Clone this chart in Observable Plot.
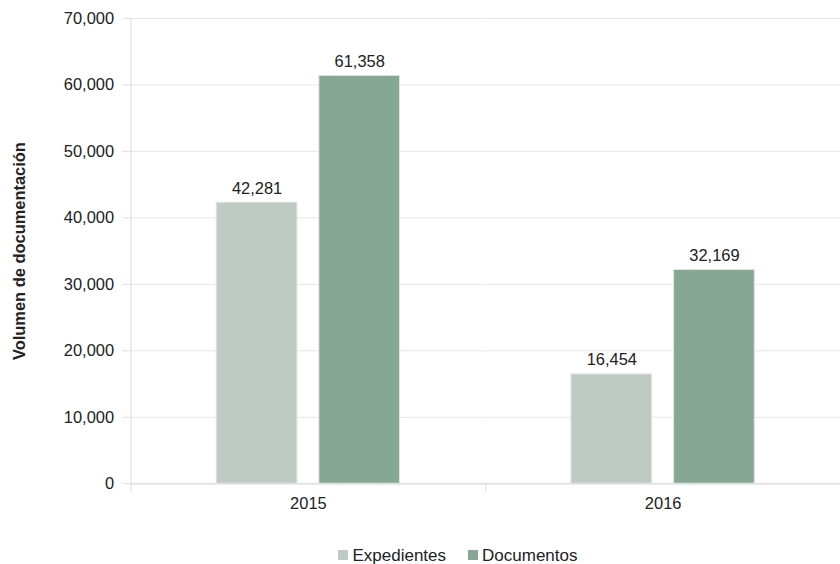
<!DOCTYPE html>
<html><head><meta charset="utf-8">
<script src="https://cdn.jsdelivr.net/npm/d3@7"></script>
<script src="https://cdn.jsdelivr.net/npm/@observablehq/plot@0.6"></script>
<style>
body{margin:0;background:#fff;overflow:hidden;font-family:"Liberation Sans",Arial,sans-serif;}
#chart{width:840px;height:530px;overflow:hidden;}
#legend{display:flex;justify-content:center;gap:22px;height:34px;align-items:center;font-size:17px;color:#222;padding-top:17px;padding-left:76px;box-sizing:border-box}
#legend .item{display:flex;align-items:center;gap:4px}
#legend .sw{width:10px;height:10px;display:inline-block;margin-top:-2px}
</style></head><body><div id="chart"></div><div id="legend"></div>
<script>
const years = [2015, 2016];
const series = ["Expedientes", "Documentos"];
const expedientes = [42281, 16454];
const documentos = [61358, 32169];
const colors = ["#bfcbc2", "#86a794"];
const yTicks = [0, 10000, 20000, 30000, 40000, 50000, 60000, 70000];
const yTitle = "Volumen de documentación";

const data = years.flatMap((y, i) => [
  {year: y, series: series[0], value: expedientes[i]},
  {year: y, series: series[1], value: documentos[i]}
]);
const fmt = d3.format(",");

const plot = Plot.plot({
  width: 843, height: 530,
  marginLeft: 130, marginRight: 0, marginTop: 18, marginBottom: 45,
  style: {fontFamily: '"Liberation Sans", Arial, sans-serif', fontSize: "16.5px", color: "#222", background: "white", overflow: "visible"},
  fx: {domain: years, padding: 0, label: null, axis: "bottom", tickSize: 0, tickPadding: 14, tickFormat: d => String(d)},
  x: {domain: series, paddingInner: 0.21, paddingOuter: 0.82, axis: null},
  y: {domain: [0, 70000]},
  color: {domain: series, range: colors},
  marks: [
    Plot.gridY(yTicks, {stroke: "#e6e6e6", strokeOpacity: 1}),
    Plot.ruleY([0], {stroke: "#e3e3e3", strokeWidth: 2}),
    Plot.axisY(yTicks, {tickFormat: fmt, tickSize: 8, stroke: "#dedede", strokeOpacity: 1, tickPadding: 9, label: null, fill: "#222"}),
    Plot.barY(data, {fx: "year", x: "series", y: "value", fill: "series", stroke: "#dfe7e2", strokeWidth: 1}),
    Plot.text(data, {fx: "year", x: "series", y: "value", text: d => fmt(d.value), lineAnchor: "bottom", dy: -9, fill: "#222"}),
    Plot.text([yTitle], {fx: () => years[0], frameAnchor: "left", textAnchor: "middle", rotate: -90, dx: -112, fontWeight: "bold", fontSize: 16.5, fill: "#222"})
  ]
});
document.getElementById("chart").append(plot);

// axis line and category separator ticks, positioned with the plot's own scales
const fxs = plot.scale("fx"), ys = plot.scale("y");
const g = d3.select(plot).append("g").attr("stroke", "#dcdcdc").attr("stroke-width", 1);
const y0 = ys.apply(0), yTop = ys.apply(yTicks[yTicks.length - 1]);
g.append("line").attr("x1", fxs.apply(years[0]) + 0.5).attr("x2", fxs.apply(years[0]) + 0.5).attr("y1", yTop).attr("y2", y0 + 9);
years.slice(1).forEach(y => {
  const x = Math.round(fxs.apply(y)) + 0.5;
  g.append("line").attr("x1", x).attr("x2", x).attr("y1", y0).attr("y2", y0 + 9);
});

const leg = d3.select("#legend");
series.forEach((s, i) => {
  const it = leg.append("div").attr("class", "item");
  it.append("span").attr("class", "sw").style("background", colors[i]);
  it.append("span").text(s);
});
</script>
</body></html>
